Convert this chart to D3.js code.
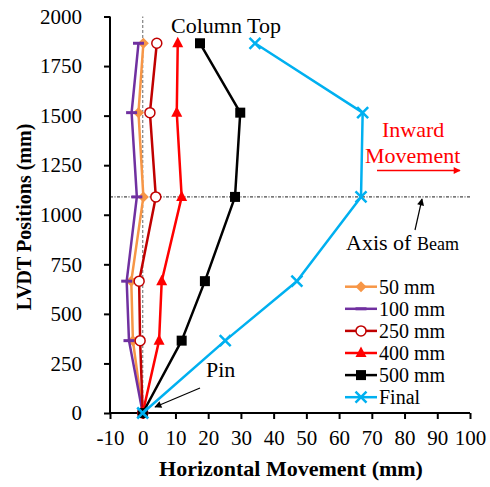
<!DOCTYPE html>
<html>
<head>
<meta charset="utf-8">
<script src="https://cdn.jsdelivr.net/npm/d3@7"></script>
<style>
  html, body { margin: 0; padding: 0; background: #fff; }
  svg { display: block; font-family: "Liberation Serif", "Times New Roman", serif; }
</style>
</head>
<body>
<svg id="chart" width="490" height="487"></svg>
<script>
// LVDT heights along the column (mm)
const positions = [0, 365, 665, 1090, 1515, 1865];

// Horizontal movement at each LVDT (mm), one array per loading stage
const seriesNames = ["50 mm", "100 mm", "250 mm", "400 mm", "500 mm", "Final"];
const mm50   = [0, -3.0, -3.5, 0.2, -1.3, 0.2];
const mm100  = [0, -4.2, -4.9, -1.8, -3.4, -1.3];
const mm250  = [0, -0.8, -1.1, 4.0, 2.2, 4.3];
const mm400  = [0, 5.0, 5.8, 11.9, 10.4, 10.7];
const mm500  = [0, 11.9, 19.0, 28.2, 29.8, 17.5];
const final  = [0, 25.2, 47.1, 66.7, 67.2, 34.3];

const xTicks = [-10, 0, 10, 20, 30, 40, 50, 60, 70, 80, 90, 100];
const yTicks = [0, 250, 500, 750, 1000, 1250, 1500, 1750, 2000];
const beamAxis = 1090;

const seriesData = [mm50, mm100, mm250, mm400, mm500, final];
const colors = ["#F79646", "#7030A0", "#C00000", "#FF0000", "#000000", "#00B0F0"];
const markers = ["diamond", "dash", "circle", "triangle", "square", "cross"];

const serif = "'Liberation Serif', 'Times New Roman', serif";
const svg = d3.select("#chart");
const x = d3.scaleLinear().domain([-10, 100]).range([110, 470]);
const y = d3.scaleLinear().domain([0, 2000]).range([413, 16.5]);

// reference lines: column centre (x = 0) and beam axis
svg.append("line")
  .attr("x1", x(0)).attr("x2", x(0)).attr("y1", y(0)).attr("y2", y(2000))
  .attr("stroke", "#808080").attr("stroke-width", 1.2).attr("stroke-dasharray", "3,2");
svg.append("line")
  .attr("x1", x(-10)).attr("x2", x(100)).attr("y1", y(beamAxis)).attr("y2", y(beamAxis))
  .attr("stroke", "#000").attr("stroke-width", 0.9).attr("stroke-dasharray", "3,1.5,1,1.5");

// axes
const fmt = d => String(d);
const xAxis = svg.append("g").attr("transform", `translate(0,${y(0)})`)
  .call(d3.axisBottom(x).tickValues(xTicks).tickFormat(fmt).tickSize(6).tickPadding(11));
const yAxis = svg.append("g").attr("transform", `translate(${x(-10)},0)`)
  .call(d3.axisLeft(y).tickValues(yTicks).tickFormat(fmt).tickSize(6).tickPadding(22));
[xAxis, yAxis].forEach(g => {
  g.attr("font-family", serif).attr("font-size", 21);
  g.select(".domain").attr("stroke", "#000").attr("stroke-width", 2);
  g.selectAll(".tick line").attr("stroke", "#000").attr("stroke-width", 2);
  g.selectAll(".tick text").attr("fill", "#000")
    .style("font-family", serif).style("font-size", "21px");
});
xAxis.select(".domain").attr("d", `M${x(-10)},0H${x(100)}`);
yAxis.select(".domain").attr("d", `M0,${y(0)}V${y(2000)}`);

// axis titles
svg.append("text").attr("x", 291).attr("y", 476).attr("text-anchor", "middle")
  .style("font-size", "22px").style("font-weight", "bold").text("Horizontal Movement (mm)");
svg.append("text").attr("transform", `translate(31,217) rotate(-90)`).attr("text-anchor", "middle")
  .style("font-size", "20px").style("font-weight", "bold").text("LVDT Positions (mm)");

// marker drawing
function drawMarker(g, type, color, cx, cy) {
  const m = g.append("g").attr("transform", `translate(${cx},${cy})`);
  if (type === "diamond") {
    m.append("path").attr("d", "M0,-5.5L5.5,0L0,5.5L-5.5,0Z").attr("fill", color);
  } else if (type === "dash") {
    m.append("line").attr("x1", -5.5).attr("x2", 5.5).attr("stroke", color).attr("stroke-width", 3);
  } else if (type === "circle") {
    m.append("circle").attr("r", 5).attr("fill", "#fff").attr("stroke", color).attr("stroke-width", 1.5);
  } else if (type === "triangle") {
    m.append("path").attr("d", "M0,-6.5L5.5,4L-5.5,4Z").attr("fill", color);
  } else if (type === "square") {
    m.append("rect").attr("x", -5).attr("y", -5).attr("width", 10).attr("height", 10).attr("fill", color);
  } else if (type === "cross") {
    m.append("path").attr("d", "M-5.5,-5.5L5.5,5.5M-5.5,5.5L5.5,-5.5")
      .attr("stroke", color).attr("stroke-width", 2.5);
  }
}

// series lines and markers
const line = d3.line().x(d => x(d[0])).y(d => y(d[1]));
seriesData.forEach((vals, i) => {
  const pts = vals.map((v, j) => [v, positions[j]]);
  const g = svg.append("g");
  g.append("path").attr("d", line(pts)).attr("fill", "none")
    .attr("stroke", colors[i]).attr("stroke-width", 2.5).attr("stroke-linejoin", "round");
  pts.forEach(p => drawMarker(g, markers[i], colors[i], x(p[0]), y(p[1])));
});

// legend
const legend = svg.append("g");
seriesNames.forEach((name, i) => {
  const ly = 286.7 + i * 22.1;
  legend.append("line").attr("x1", 345).attr("x2", 377).attr("y1", ly).attr("y2", ly)
    .attr("stroke", colors[i]).attr("stroke-width", 2.5);
  drawMarker(legend, markers[i], colors[i], 361, ly);
  legend.append("text").attr("x", 379).attr("y", ly + 7).style("font-size", "20px").text(name);
});

// annotations
const defs = svg.append("defs");
[["arrowRed", "#FF0000"], ["arrowBlack", "#000"]].forEach(([id, c]) => {
  defs.append("marker").attr("id", id).attr("viewBox", "0 0 10 10").attr("refX", 9).attr("refY", 5)
    .attr("markerWidth", 9).attr("markerHeight", 7).attr("orient", "auto").attr("markerUnits", "userSpaceOnUse")
    .append("path").attr("d", "M0,0L10,5L0,10Z").attr("fill", c);
});

svg.append("text").attr("x", 171).attr("y", 33).style("font-size", "22px").text("Column Top");

svg.append("text").attr("x", 382).attr("y", 137).attr("fill", "#FF0000").style("font-size", "22px").text("Inward");
svg.append("text").attr("x", 365).attr("y", 163).attr("fill", "#FF0000").style("font-size", "22px").text("Movement");
svg.append("line").attr("x1", 377).attr("x2", 460).attr("y1", 170.5).attr("y2", 170.5)
  .attr("stroke", "#FF0000").attr("stroke-width", 1.3).attr("marker-end", "url(#arrowRed)");

const axisLabel = svg.append("text").attr("x", 346).attr("y", 250).style("font-size", "22px");
axisLabel.append("tspan").text("Axis of ");
axisLabel.append("tspan").style("font-size", "18px").text("Beam");
svg.append("line").attr("x1", 415).attr("y1", 230).attr("x2", 422).attr("y2", 199)
  .attr("stroke", "#000").attr("stroke-width", 1.2).attr("marker-end", "url(#arrowBlack)");

svg.append("text").attr("x", 206).attr("y", 377).style("font-size", "22px").text("Pin");
svg.append("line").attr("x1", 200).attr("y1", 388).attr("x2", 155).attr("y2", 407)
  .attr("stroke", "#000").attr("stroke-width", 1.2).attr("marker-end", "url(#arrowBlack)");
</script>
</body>
</html>
